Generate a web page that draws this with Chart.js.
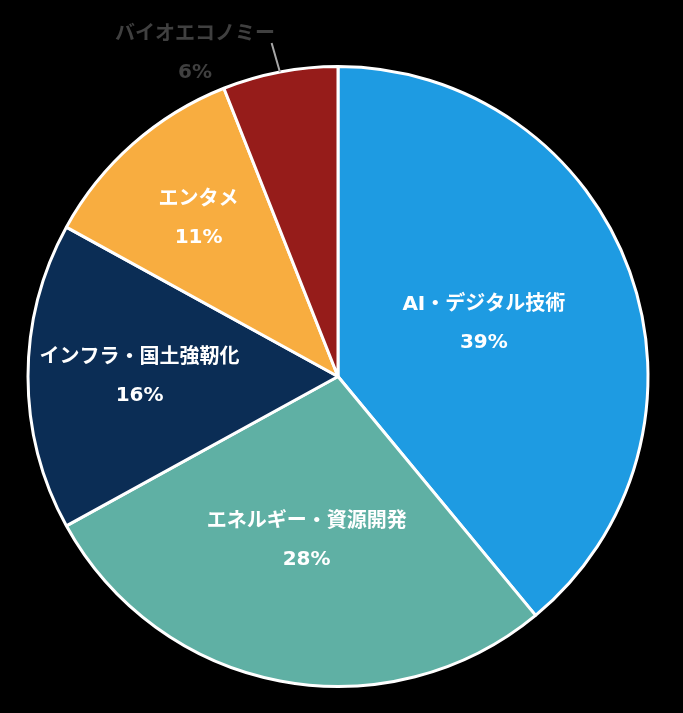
<!DOCTYPE html>
<html>
<head>
<meta charset="utf-8">
<script src="https://cdn.jsdelivr.net/npm/chart.js@4.4.0/dist/chart.umd.min.js"></script>
<style>
  html, body { margin: 0; padding: 0; background: #000; }
  #grafica { display: block; }
</style>
</head>
<body>
<canvas id="grafica" width="683" height="713"></canvas>
<script>
// datos del gráfico
var categorias = ['AI・デジタル技術', 'エネルギー・資源開発', 'インフラ・国土強靭化', 'エンタメ', 'バイオエコノミー'];
var porcentajes = [39, 28, 16, 11, 6];
var colores = ['#1e9be2', '#5fb0a4', '#0b2d55', '#f8ad40', '#961c1a'];

// posición de las etiquetas (fracción del radio), la última va fuera
var radio_etiqueta = [0.5, 0.54, 0.64, 0.68, 1.2];
var fuente = "bold 20px 'DejaVu Sans', 'Noto Sans CJK JP', sans-serif";

var etiquetas_plugin = {
    id: 'etiquetas',
    afterDatasetsDraw: function(chart) {
        var ctx = chart.ctx;
        var meta = chart.getDatasetMeta(0);
        ctx.save();
        ctx.font = fuente;
        ctx.textAlign = 'center';
        ctx.textBaseline = 'middle';
        meta.data.forEach(function(arc, i) {
            var p = arc.getProps(['x', 'y', 'startAngle', 'endAngle', 'outerRadius'], true);
            var medio = (p.startAngle + p.endAngle) / 2;
            var r = p.outerRadius * radio_etiqueta[i];
            var x = p.x + Math.cos(medio) * r;
            var y = p.y + Math.sin(medio) * r;
            if (radio_etiqueta[i] > 1) {
                // etiqueta exterior con línea guía
                ctx.strokeStyle = '#a6a6a6';
                ctx.lineWidth = 2;
                ctx.beginPath();
                ctx.moveTo(p.x + Math.cos(medio) * p.outerRadius, p.y + Math.sin(medio) * p.outerRadius);
                ctx.lineTo(p.x + Math.cos(medio - 0.008) * (p.outerRadius + 30), p.y + Math.sin(medio - 0.008) * (p.outerRadius + 30));
                ctx.stroke();
                ctx.fillStyle = '#404040';
                x = 195;
                y = 54;
            } else {
                ctx.fillStyle = '#ffffff';
            }
            ctx.fillText(categorias[i], x, y - 19);
            ctx.fillText(porcentajes[i] + '%', x, y + 19);
        });
        ctx.restore();
    }
};

var fondo_plugin = {
    id: 'fondo',
    beforeDraw: function(chart) {
        var ctx = chart.ctx;
        ctx.save();
        ctx.fillStyle = '#000';
        ctx.fillRect(0, 0, chart.width, chart.height);
        ctx.restore();
    }
};

const ctx = document.getElementById('grafica');
const myChart = new Chart(ctx, {
    type: 'pie',
    data: {
        labels: categorias,
        datasets: [{
            data: porcentajes,
            backgroundColor: colores,
            borderColor: '#ffffff',
            borderWidth: 3
        }]
    },
    options: {
        responsive: false,
        animation: false,
        layout: {
            padding: { top: 65, bottom: 25, left: 0, right: 7 }
        },
        plugins: {
            legend: { display: false },
            tooltip: { enabled: false }
        }
    },
    plugins: [fondo_plugin, etiquetas_plugin]
});
</script>
</body>
</html>
